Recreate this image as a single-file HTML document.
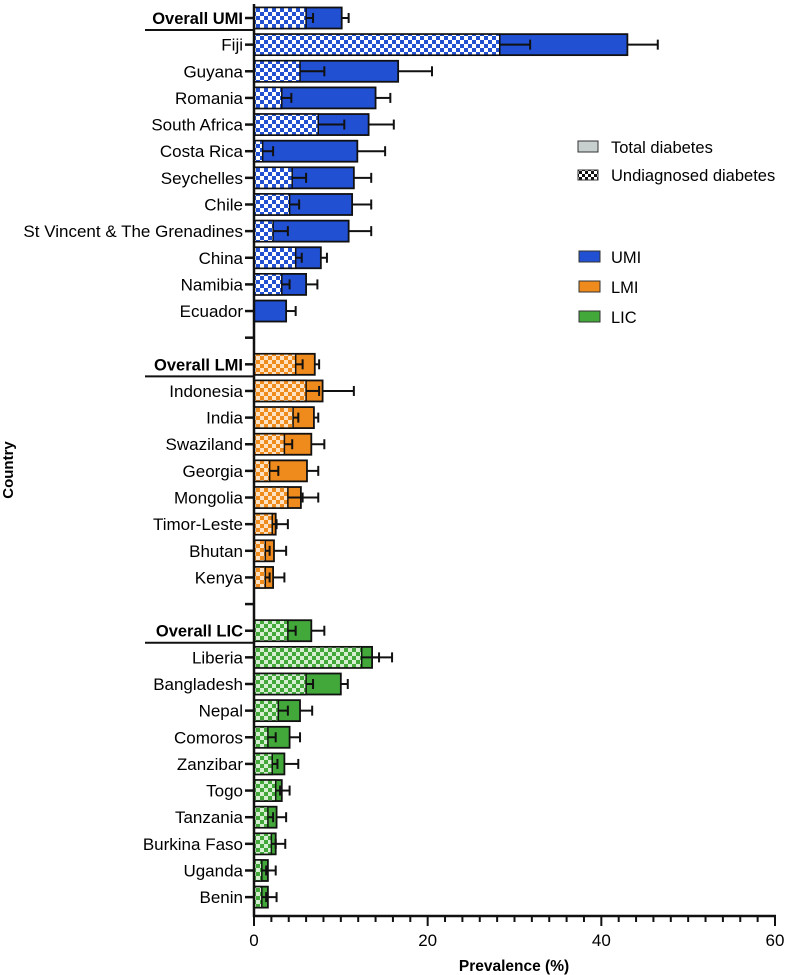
<!DOCTYPE html>
<html><head><meta charset="utf-8">
<style>
html,body{margin:0;padding:0;background:#fff;}
svg{display:block;font-family:"Liberation Sans",Arial,sans-serif;}
</style></head>
<body>
<svg id="chart" width="785" height="975" viewBox="0 0 785 975">
<defs>
<pattern id="chk-UMI" width="8" height="8" patternUnits="userSpaceOnUse"><rect width="8" height="8" fill="#fff"/><rect width="4" height="4" fill="#2150d2"/><rect x="4" y="4" width="4" height="4" fill="#2150d2"/></pattern>
<pattern id="chk-LMI" width="8" height="8" patternUnits="userSpaceOnUse"><rect width="8" height="8" fill="#fde3c4"/><rect width="4" height="4" fill="#ef8a1c"/><rect x="4" y="4" width="4" height="4" fill="#ef8a1c"/></pattern>
<pattern id="chk-LIC" width="8" height="8" patternUnits="userSpaceOnUse"><rect width="8" height="8" fill="#d6efd2"/><rect width="4" height="4" fill="#42a83a"/><rect x="4" y="4" width="4" height="4" fill="#42a83a"/></pattern>
<pattern id="chk-BW" width="6" height="6" patternUnits="userSpaceOnUse"><rect width="6" height="6" fill="#fff"/><rect width="3" height="3" fill="#111"/><rect x="3" y="3" width="3" height="3" fill="#111"/></pattern>
</defs>
<g id="bars"></g>
<g id="axes"></g>
<g id="legend">
  <rect x="578" y="141" width="20" height="11" fill="#c8cfcf" stroke="#333" stroke-width="1"/>
  <text x="611" y="153" font-size="16.5">Total diabetes</text>
  <rect x="578" y="170" width="20" height="10" fill="url(#chk-BW)" stroke="#333" stroke-width="1"/>
  <text x="611" y="181" font-size="16.5">Undiagnosed diabetes</text>
  <rect x="579" y="251" width="21" height="11" fill="#2150d2" stroke="#333" stroke-width="1"/>
  <text x="611" y="263" font-size="16.5">UMI</text>
  <rect x="579" y="281" width="21" height="11" fill="#ef8a1c" stroke="#333" stroke-width="1"/>
  <text x="611" y="293" font-size="16.5">LMI</text>
  <rect x="579" y="311" width="21" height="11" fill="#42a83a" stroke="#333" stroke-width="1"/>
  <text x="611" y="323" font-size="16.5">LIC</text>
</g>
<text x="0" y="0" transform="translate(13,470) rotate(-90)" text-anchor="middle" font-size="15" font-weight="bold">Country</text>
<text x="514" y="971" text-anchor="middle" font-size="15.5" font-weight="bold">Prevalence (%)</text>
</svg>
<script>
const categories = ["Overall UMI","Fiji","Guyana","Romania","South Africa","Costa Rica","Seychelles","Chile","St Vincent & The Grenadines","China","Namibia","Ecuador","","Overall LMI","Indonesia","India","Swaziland","Georgia","Mongolia","Timor-Leste","Bhutan","Kenya","","Overall LIC","Liberia","Bangladesh","Nepal","Comoros","Zanzibar","Togo","Tanzania","Burkina Faso","Uganda","Benin"];
const groups = ["UMI","UMI","UMI","UMI","UMI","UMI","UMI","UMI","UMI","UMI","UMI","UMI","","LMI","LMI","LMI","LMI","LMI","LMI","LMI","LMI","LMI","","LIC","LIC","LIC","LIC","LIC","LIC","LIC","LIC","LIC","LIC","LIC"];
const totalValues = [10.1,43.0,16.6,14.0,13.2,11.9,11.5,11.3,10.9,7.7,6.0,3.7,null,7.0,7.9,6.9,6.6,6.1,5.4,2.5,2.3,2.2,null,6.6,13.6,10.0,5.3,4.1,3.5,3.2,2.6,2.5,1.6,1.6];
const totalErrors = [0.8,3.5,3.9,1.7,2.9,3.2,2.0,2.2,2.6,0.7,1.3,1.1,null,0.5,3.6,0.5,1.5,1.3,2.0,1.4,1.4,1.3,null,1.5,2.3,0.8,1.4,1.2,1.6,0.9,1.1,1.1,0.9,1.0];
const undiagValues = [6.0,28.3,5.3,3.2,7.4,1.0,4.4,4.1,2.2,4.8,3.2,0,null,4.8,6.0,4.5,3.5,1.8,3.9,2.1,1.3,1.3,null,3.9,12.4,6.0,2.8,1.6,2.1,2.5,1.6,2.0,0.9,0.9];
const undiagErrors = [0.8,3.5,2.8,1.1,3.0,1.2,1.6,1.1,1.7,0.7,0.9,0,null,0.8,1.5,0.6,0.9,1.0,1.7,0.5,0.5,0.5,null,0.9,2.0,0.8,1.1,0.9,0.6,0.5,0.6,0.5,0.5,0.5];
const xTicks = [0,20,40,60];

const NS="http://www.w3.org/2000/svg";
const X0=254, X1=775, XMAX=60, Y0=18, STEP=26.64, AXY=916, BH=21;
function xScale(v){return X0+(v/XMAX)*(X1-X0);}
function yScale(i){return Y0+i*STEP;}
const colors={UMI:"#2150d2",LMI:"#ef8a1c",LIC:"#42a83a"};
function mk(tag,attrs,parent){const e=document.createElementNS(NS,tag);for(const k in attrs)e.setAttribute(k,attrs[k]);parent.appendChild(e);return e;}
const gb=document.getElementById("bars"), ga=document.getElementById("axes");

function errBar(parent,v,e,y,name){
  const g=mk("g",{},parent);
  
  
  mk("line",{x1:xScale(v),x2:xScale(v+e),y1:y,y2:y,stroke:"#111","stroke-width":2},g);
  mk("line",{x1:xScale(v+e),x2:xScale(v+e),y1:y-5,y2:y+5,stroke:"#111","stroke-width":2},g);
}

categories.forEach((c,i)=>{
  const y=yScale(i);
  const t=mk("line",{x1:X0-9,x2:X0,y1:y,y2:y,stroke:"#111","stroke-width":2.5},ga);
  
  
  if(!c) return;
  const bold=c.startsWith("Overall");
  const lbl=mk("text",{x:X0-11,y:y+6,"text-anchor":"end","font-size":bold?16.5:17,"font-weight":bold?"bold":"normal"},ga);
  lbl.textContent=c;
  
  
  if(bold){
    const ul=mk("line",{x1:145,x2:X0,y1:y+12,y2:y+12,stroke:"#111","stroke-width":2},ga);
    
    
  }
  const col=colors[groups[i]];
  const tb=mk("rect",{x:X0,y:y-BH/2,width:xScale(totalValues[i])-X0,height:BH,fill:col,stroke:"#111","stroke-width":1.8},gb);
  
  
  if(undiagValues[i]>0){
    const ub=mk("rect",{x:X0,y:y-BH/2,width:xScale(undiagValues[i])-X0,height:BH,fill:"url(#chk-"+groups[i]+")",stroke:"#111","stroke-width":1.5},gb);
    
    
    errBar(gb,undiagValues[i],undiagErrors[i],y,'error-undiagnosed');
  }
  errBar(gb,totalValues[i],totalErrors[i],y,'error-total');
});

const ya=mk("line",{x1:X0,x2:X0,y1:4,y2:AXY+1,stroke:"#111","stroke-width":2.5},ga);


const xa=mk("line",{x1:X0-1,x2:X1+1,y1:AXY,y2:AXY,stroke:"#111","stroke-width":2.5},ga);


for(let v=0;v<=XMAX;v+=2){
  const major=xTicks.includes(v);
  const tk=mk("line",{x1:xScale(v),x2:xScale(v),y1:AXY,y2:AXY+(major?10:6),stroke:"#111","stroke-width":2},ga);
  
  
}
xTicks.forEach(v=>{
  const tl=mk("text",{x:xScale(v),y:AXY+30,"text-anchor":"middle","font-size":17},ga);
  tl.textContent=v;
  
  
});
</script>
</body></html>
